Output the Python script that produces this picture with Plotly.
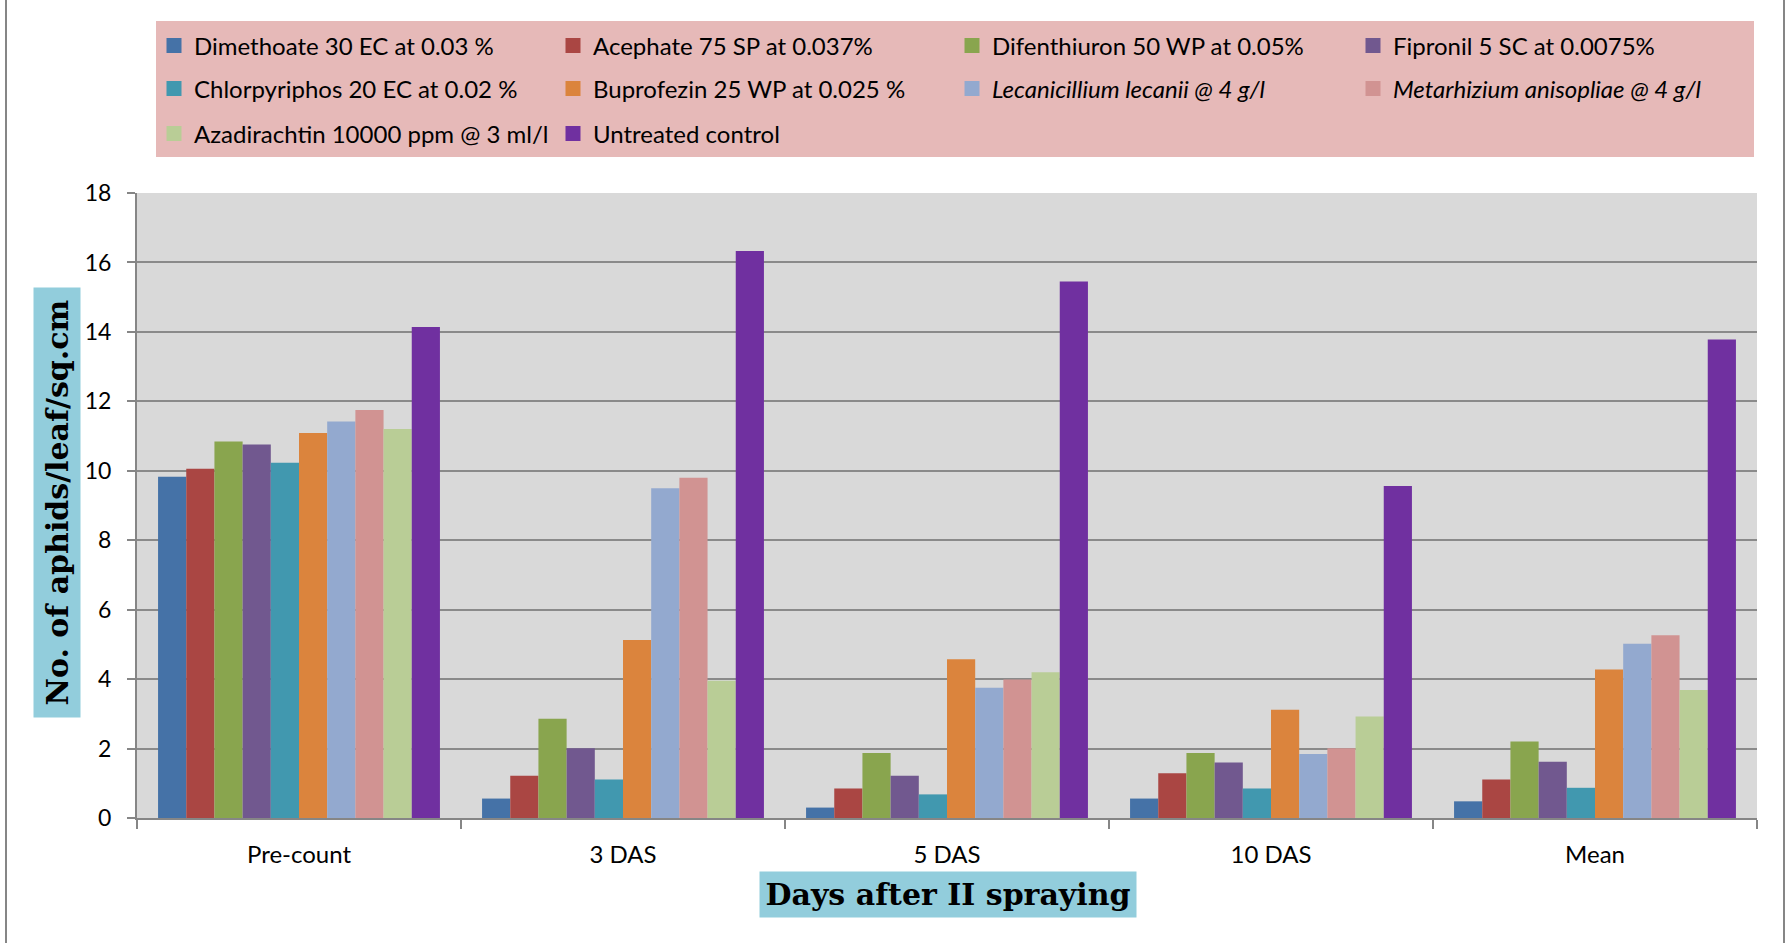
import plotly.graph_objects as go

# Sampling intervals on the x axis
categories = ["Pre-count", "3 DAS", "5 DAS", "10 DAS", "Mean"]

# Treatments (legend order) and bar colours
treatments = [
    "Dimethoate 30 EC at 0.03 %",
    "Acephate 75 SP at 0.037%",
    "Difenthiuron 50 WP at 0.05%",
    "Fipronil 5 SC at 0.0075%",
    "Chlorpyriphos 20 EC at 0.02 %",
    "Buprofezin 25 WP at 0.025 %",
    "<i>Lecanicillium lecanii @ 4 g/l</i>",
    "<i>Metarhizium anisopliae @ 4 g/l</i>",
    "Azadirachtin 10000 ppm @ 3 ml/l",
    "Untreated control",
]
colors = ["#4572A7", "#AA4643", "#89A54E", "#71588F", "#4198AF",
          "#DB843D", "#93A9CF", "#D19392", "#B9CD96", "#7030A0"]

# Aphids per leaf per sq.cm, one list per treatment (Pre-count, 3, 5, 10 DAS, Mean)
dimethoate = [9.83, 0.56, 0.30, 0.56, 0.48]
acephate = [10.06, 1.22, 0.85, 1.29, 1.11]
difenthiuron = [10.84, 2.86, 1.87, 1.87, 2.20]
fipronil = [10.76, 2.01, 1.22, 1.60, 1.62]
chlorpyriphos = [10.23, 1.11, 0.68, 0.85, 0.87]
buprofezin = [11.09, 5.13, 4.57, 3.12, 4.28]
lecanicillium = [11.42, 9.50, 3.75, 1.84, 5.02]
metarhizium = [11.75, 9.80, 3.99, 2.01, 5.26]
azadirachtin = [11.20, 3.95, 4.20, 2.92, 3.69]
control = [14.14, 16.33, 15.45, 9.56, 13.78]

series = [dimethoate, acephate, difenthiuron, fipronil, chlorpyriphos,
          buprofezin, lecanicillium, metarhizium, azadirachtin, control]

W, H = 1789, 943
L, R, T, B = 137, 1757, 193, 818   # plot area in pixels


def px(x):
    return (x - L) / (R - L)


def py(y):
    return (B - y) / (B - T)


# legend grid: 4 columns x 3 rows, one single-entry legend per treatment
col_text_x = [192, 591, 990, 1391]
row_y = [46, 89, 134]

fig = go.Figure()
legend_layout = {}
legend_font = dict(family="Lato", size=24, color="#000000")
for i, (name, vals, col) in enumerate(zip(treatments, series, colors)):
    key = "legend" if i == 0 else f"legend{i + 1}"
    fig.add_trace(go.Bar(
        x=categories, y=vals, name=name, legendgroup=name, showlegend=False,
        marker=dict(color=col, line=dict(width=0)),
    ))
    # square legend key for this treatment
    fig.add_trace(go.Scatter(
        x=[None], y=[None], mode="markers", name=name, legend=key,
        legendgroup=name, showlegend=True, hoverinfo="skip",
        marker=dict(symbol="square", size=15, color=col, line=dict(width=0)),
    ))
    r, c = divmod(i, 4)
    legend_layout[key] = dict(
        x=px(col_text_x[c] - 38), y=py(row_y[r]),
        xanchor="left", yanchor="middle", orientation="h",
        bgcolor="rgba(0,0,0,0)", font=legend_font,
        itemclick=False, itemdoubleclick=False,
    )

fig.update_layout(
    width=W, height=H,
    margin=dict(l=L, r=W - R, t=T, b=H - B, pad=0),
    paper_bgcolor="white",
    plot_bgcolor="#D9D9D9",
    barmode="group",
    bargap=0.13,
    bargroupgap=0,
    showlegend=True,
    xaxis=dict(
        type="category",
        showline=True, linecolor="#868686", linewidth=2,
        ticks="outside", tickson="boundaries", ticklen=9,
        tickcolor="#868686", tickwidth=2,
        ticklabelstandoff=14,
        tickfont=dict(family="Lato", size=24, color="#000000"),
        showgrid=False,
    ),
    yaxis=dict(
        range=[0, 18], dtick=2, tick0=0,
        showline=True, linecolor="#868686", linewidth=2,
        ticks="outside", ticklen=8, tickcolor="#868686", tickwidth=2,
        ticklabelstandoff=11,
        tickfont=dict(family="Lato", size=23, color="#000000"),
        showgrid=True, gridcolor="#8A8A8A", gridwidth=2,
        zeroline=False,
    ),
    shapes=[
        # legend panel
        dict(type="rect", xref="paper", yref="paper",
             x0=px(156), x1=px(1754), y0=py(157), y1=py(21),
             fillcolor="#E6B9B8", line=dict(width=0), layer="below"),
        # chart border
        dict(type="line", xref="paper", yref="paper",
             x0=px(6), x1=px(6), y0=py(0), y1=py(943),
             line=dict(color="#868686", width=2)),
        dict(type="line", xref="paper", yref="paper",
             x0=px(1784), x1=px(1784), y0=py(0), y1=py(943),
             line=dict(color="#868686", width=2)),
    ],
    annotations=[
        dict(text="<b>No. of aphids/leaf/sq.cm</b>", textangle=-90,
             xref="paper", yref="paper", x=px(57), y=py(503),
             xanchor="center", yanchor="middle", showarrow=False,
             width=429, height=46, bgcolor="#92CDDC", borderpad=0,
             font=dict(family="DejaVu Serif", size=30, color="#000000")),
        dict(text="<b>Days after II spraying</b>",
             xref="paper", yref="paper", x=px(948), y=py(894),
             xanchor="center", yanchor="middle", showarrow=False,
             width=376, height=45, bgcolor="#92CDDC", borderpad=0,
             font=dict(family="DejaVu Serif", size=30, color="#000000")),
    ],
    **legend_layout,
)

fig.write_html("out.html")
